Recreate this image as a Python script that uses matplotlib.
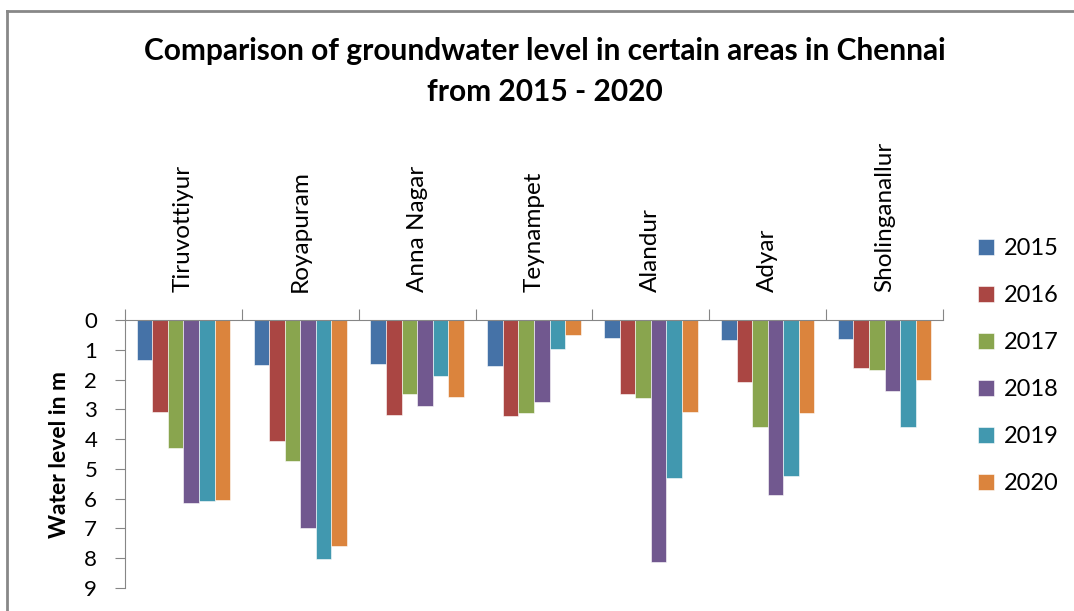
import numpy as np
import matplotlib.pyplot as plt
from matplotlib.lines import Line2D

areas = ["Tiruvottiyur", "Royapuram", "Anna Nagar", "Teynampet",
         "Alandur", "Adyar", "Sholinganallur"]
years = ["2015", "2016", "2017", "2018", "2019", "2020"]

lvl_2015 = [1.35, 1.50, 1.47, 1.56, 0.61, 0.67, 0.64]
lvl_2016 = [3.09, 4.08, 3.20, 3.24, 2.50, 2.09, 1.60]
lvl_2017 = [4.30, 4.72, 2.47, 3.13, 2.63, 3.60, 1.68]
lvl_2018 = [6.13, 6.98, 2.90, 2.75, 8.13, 5.86, 2.39]
lvl_2019 = [6.09, 8.02, 1.89, 0.96, 5.31, 5.24, 3.60]
lvl_2020 = [6.05, 7.58, 2.57, 0.52, 3.09, 3.13, 2.01]
levels = [lvl_2015, lvl_2016, lvl_2017, lvl_2018, lvl_2019, lvl_2020]

colors = ["#4572A7", "#AA4643", "#89A54E", "#71588F", "#4198AF", "#DB843D"]

plt.rcParams['font.family'] = ['Lato', 'DejaVu Sans']

fig = plt.figure(figsize=(10.74, 6.11), dpi=100)
ax = fig.add_axes([0.1164, 0.0376, 0.7616, 0.4387])

x = np.arange(len(areas))
w = 0.8 / len(years)
for i, (yr, vals) in enumerate(zip(years, levels)):
    ax.bar(x - 0.4 + w * (i + 0.5), vals, width=w, color=colors[i],
           edgecolor="white", linewidth=0.4, label=yr)

ax.set_xlim(-0.5, len(areas) - 0.5)
ax.set_ylim(9, 0)
ax.set_yticks(range(10))
ax.tick_params(axis="y", labelsize=16, length=7, color="#868686", pad=13)

ax.xaxis.tick_top()
ax.set_xticks(np.arange(len(areas) + 1) - 0.5)
ax.set_xticklabels([])
ax.set_xticks(x, minor=True)
ax.set_xticklabels(areas, minor=True, rotation=90, fontsize=17.5)
ax.tick_params(axis="x", which="major", length=8, color="#868686")
ax.tick_params(axis="x", which="minor", length=0, pad=20)

for s in ["bottom", "right"]:
    ax.spines[s].set_visible(False)
for s in ["top", "left"]:
    ax.spines[s].set_color("#868686")

ax.set_ylabel("Water level in m", fontsize=16.5, fontweight="bold", labelpad=10)

fig.text(0.507, 0.883, "Comparison of groundwater level in certain areas in Chennai\nfrom 2015 - 2020",
         ha="center", va="center", fontsize=21.5, fontweight="bold", linespacing=1.55)

ax.legend(loc="upper left", bbox_to_anchor=(0.891, 0.645), bbox_transform=fig.transFigure,
          frameon=False, fontsize=17, handlelength=0.65, handleheight=0.65,
          handletextpad=0.45, labelspacing=1.1)

# outer chart border (top and left visible in the crop)
fig.add_artist(Line2D([0.0065, 0.0065], [0, 0.982], transform=fig.transFigure, color="#888888", lw=2))
fig.add_artist(Line2D([0.0065, 1], [0.982, 0.982], transform=fig.transFigure, color="#888888", lw=2))

fig.savefig("out.png", dpi=100)
